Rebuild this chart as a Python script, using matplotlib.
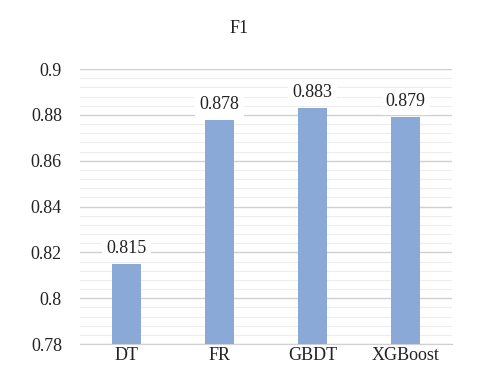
import matplotlib
matplotlib.use("Agg")
import matplotlib.pyplot as plt
from matplotlib.ticker import MultipleLocator

models = ["DT", "FR", "GBDT", "XGBoost"]
f1 = [0.815, 0.878, 0.883, 0.879]
ytick_vals = [0.78, 0.8, 0.82, 0.84, 0.86, 0.88, 0.9]
ytick_labels = ["0.78", "0.8", "0.82", "0.84", "0.86", "0.88", "0.9"]

plt.rcParams["font.family"] = ["Liberation Serif", "DejaVu Serif"]

fig = plt.figure(figsize=(4.79, 3.84), dpi=100)
ax = fig.add_axes([0.167, 0.104, 0.777, 0.716])

x = range(len(models))
ax.bar(x, f1, width=0.31, color="#8AA9D6", zorder=3)
for xi, v in zip(x, f1):
    ax.text(xi, v + 0.003, f"{v:.3f}", ha="center", va="bottom", fontsize=13,
            color="#222222", zorder=4,
            bbox=dict(facecolor="white", edgecolor="none", pad=3))

ax.set_xlim(-0.5, len(models) - 0.5)
ax.set_ylim(0.78, 0.9)
ax.set_yticks(ytick_vals)
ax.set_yticklabels(ytick_labels)
ax.yaxis.set_minor_locator(MultipleLocator(0.004))
ax.set_xticks(list(x))
ax.set_xticklabels(models)
ax.tick_params(axis="both", length=0, labelsize=13, colors="#222222")
ax.tick_params(axis="y", which="minor", length=0)
ax.tick_params(axis="y", pad=13)
ax.tick_params(axis="x", pad=2)

ax.grid(axis="y", which="major", color="#D0D0D0", linewidth=1.0, zorder=0)
ax.grid(axis="y", which="minor", color="#EDEDED", linewidth=0.8, zorder=0)
for s in ["top", "right", "left"]:
    ax.spines[s].set_visible(False)
ax.spines["bottom"].set_color("#D0D0D0")

fig.text(0.5, 0.925, "F1", ha="center", va="center", fontsize=13, color="#222222")

fig.savefig("out.png", dpi=100)
